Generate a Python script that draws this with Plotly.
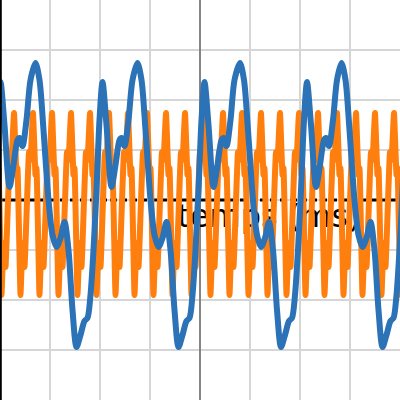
import plotly.graph_objects as go

# ---- data (time unit = one grid step) ----
# blue signal: positions of its tallest peak in each cycle, and the shape of one cycle
blue_peak_t = [-5.33, -3.29, -1.25, 0.80, 2.83, 4.87]
blue_cycle_dt = [0.00, 0.08, 0.16, 0.26, 0.34, 0.42, 0.50, 0.58, 0.66, 0.74, 0.82, 0.90,
                 0.98, 1.04, 1.10, 1.16, 1.22, 1.28, 1.34, 1.42, 1.52, 1.60, 1.68, 1.72,
                 1.78, 1.86, 1.94]
blue_cycle_v = [2.74, 2.40, 1.40, 0.00, -0.70, -0.94, -0.76, -0.44, -1.00, -2.20, -2.94, -2.70,
                -2.42, -2.36, -1.90, -1.00, 0.20, 1.60, 2.36, 1.50, 0.26, 0.70, 1.20, 1.24,
                1.08, 1.60, 2.40]

# orange signal: positions of its tall peaks and the shape of one cycle
orange_peak_t = [-4.10, -3.72, -3.34, -2.96, -2.58, -2.20, -1.82, -1.44, -1.06, -0.68, -0.30,
                 0.08, 0.46, 0.84, 1.22, 1.60, 1.98, 2.36, 2.74, 3.12, 3.50, 3.88, 4.26]
orange_cycle_dt = [0.00, 0.05, 0.07, 0.13, 0.17, 0.21, 0.30, 0.33]
orange_cycle_v = [1.74, 0.50, 0.64, -1.90, -0.86, -1.34, 0.96, 0.80]

axis_label = "temps (ms)"
label_pos = (1.38, -0.38)


def build(peaks, dts, vs):
    xs, ys = [], []
    for p in peaks:
        for dt, v in zip(dts, vs):
            xs.append(p + dt)
            ys.append(v)
    return xs, ys


bx, by = build(blue_peak_t, blue_cycle_dt, blue_cycle_v)
ox, oy = build(orange_peak_t, orange_cycle_dt, orange_cycle_v)

fig = go.Figure()
fig.add_trace(go.Scatter(x=[label_pos[0]], y=[label_pos[1]], mode="text", text=[axis_label],
                         textfont=dict(family="DejaVu Sans", size=32, color="black"),
                         hoverinfo="skip", showlegend=False))
fig.add_trace(go.Scatter(x=[-4.2, 4.2], y=[0, 0], mode="lines",
                         line=dict(color="black", width=3, dash="7px,3px"),
                         hoverinfo="skip", showlegend=False))
fig.add_trace(go.Scatter(x=ox, y=oy, mode="lines",
                         line=dict(color="#ff7f0e", width=6, shape="spline", smoothing=0.3),
                         showlegend=False))
fig.add_trace(go.Scatter(x=bx, y=by, mode="lines",
                         line=dict(color="#2b72b6", width=6, shape="spline", smoothing=0.8),
                         showlegend=False))

fig.update_layout(
    width=400, height=400, margin=dict(l=0, r=0, t=0, b=0),
    paper_bgcolor="white", plot_bgcolor="white", showlegend=False,
    xaxis=dict(range=[-4, 4], dtick=1, showgrid=True, gridcolor="#d6d6d6", gridwidth=2,
               zeroline=True, zerolinecolor="#858585", zerolinewidth=2,
               showticklabels=False, ticks=""),
    yaxis=dict(range=[-4, 4], dtick=1, showgrid=True, gridcolor="#d6d6d6", gridwidth=2,
               zeroline=False, showticklabels=False, ticks=""),
    shapes=[dict(type="line", xref="paper", yref="paper", x0=0.002, x1=0.002, y0=0, y1=1,
                 line=dict(color="black", width=2), layer="above")],
)

fig.write_html("out.html", config={"displayModeBar": False},
               post_script="document.body.style.margin='0';document.body.style.overflow='hidden';")
